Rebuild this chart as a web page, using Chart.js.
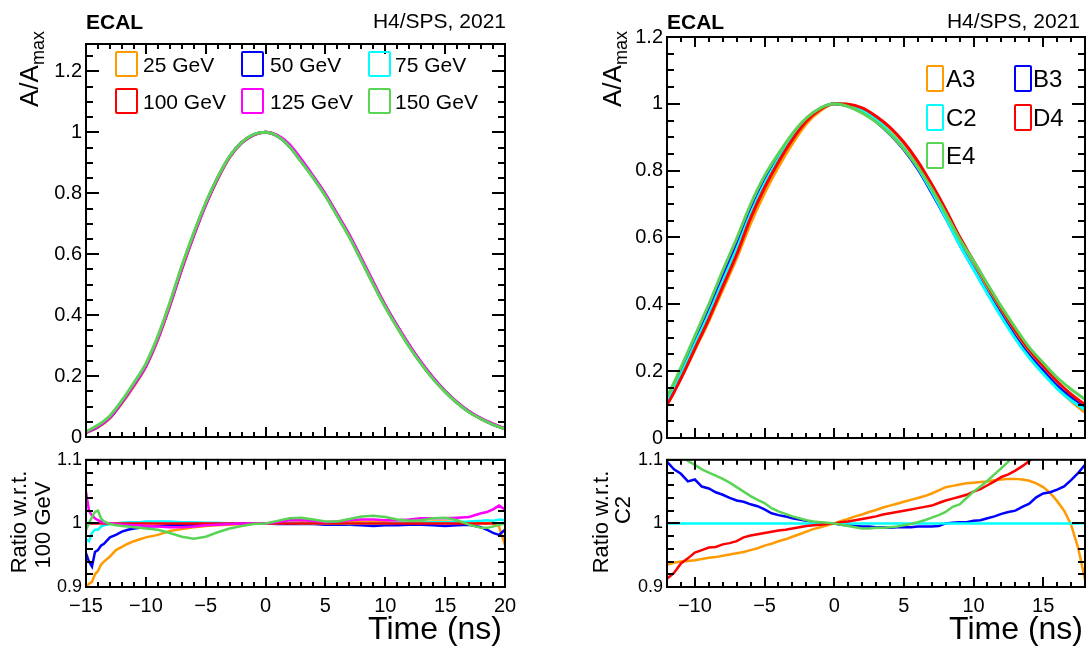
<!DOCTYPE html>
<html><head><meta charset="utf-8">
<script src="https://cdn.jsdelivr.net/npm/chart.js@4.4.1/dist/chart.umd.min.js"></script>
<style>
html,body{margin:0;padding:0;background:#fff;}
body{width:1091px;height:646px;position:relative;overflow:hidden;font-family:"Liberation Sans",Arial,sans-serif;color:#000;}
canvas{position:absolute;}
.t{position:absolute;white-space:nowrap;line-height:1;}
.box{position:absolute;box-sizing:border-box;border:2px solid;border-radius:2px;}
.rot{position:absolute;white-space:nowrap;line-height:1;transform:translate(-50%,-50%) rotate(-90deg);}
</style></head><body>
<canvas id="c1" width="530" height="425" style="left:0;top:28px"></canvas>
<canvas id="c2" width="530" height="201" style="left:0;top:445px"></canvas>
<canvas id="c3" width="511" height="434" style="left:580px;top:20px"></canvas>
<canvas id="c4" width="511" height="201" style="left:580px;top:445px"></canvas>

<div class="t" style="left:86px;top:11px;font-size:21px;font-weight:bold">ECAL</div>
<div class="t" style="right:585px;top:10px;font-size:21px">H4/SPS, 2021</div>
<div class="t" style="left:667px;top:11px;font-size:21px;font-weight:bold">ECAL</div>
<div class="t" style="right:11px;top:10px;font-size:21px">H4/SPS, 2021</div>

<div class="rot" style="left:29px;top:69px;font-size:26px">A/A<span style="font-size:18px;position:relative;top:6px">max</span></div>
<div class="rot" style="left:612px;top:69px;font-size:26px">A/A<span style="font-size:18px;position:relative;top:6px">max</span></div>
<div class="rot" style="left:19px;top:522px;font-size:22px">Ratio w.r.t.</div>
<div class="rot" style="left:43px;top:525px;font-size:22px">100 GeV</div>
<div class="rot" style="left:601px;top:522px;font-size:22px">Ratio w.r.t.</div>
<div class="rot" style="left:623px;top:510px;font-size:22px">C2</div>

<div class="t" style="right:589px;top:612px;font-size:32px">Time (ns)</div>
<div class="t" style="right:8px;top:612px;font-size:32px">Time (ns)</div>

<div id="legL"></div>
<div id="legR"></div>

<script>
// ---------- Top-left: pulse shapes per beam energy ----------
const tPulse = [-15,-14,-13,-12,-11,-10,-9,-8,-7,-6,-5,-4,-3,-2,-1,0,1,2,3,4,5,6,7,8,9,10,11,12,13,14,15,16,17,18,19,20];
const pulse25  = [.0135,.032,.062,.111,.167, .23,.319,.43,.55,.661, .762,.847,.918,.965,.992, 1.0,.988,.956,.907,.853, .796,.729,.661,.585,.507, .431,.363,.3,.243,.194, .15,.113,.083,.06,.042, .026];
const pulse50  = [.0143,.034,.064,.114,.171, .234,.324,.434,.554,.664, .764,.85,.92,.966,.992, 1.0,.987,.954,.904,.851, .793,.727,.659,.581,.503, .429,.362,.299,.242,.192, .149,.113,.083,.06,.041, .027];
const pulse75  = [.0146,.035,.065,.115,.172, .236,.326,.436,.556,.666, .766,.85,.92,.966,.992, 1.0,.988,.956,.905,.852, .795,.728,.659,.583,.505, .43,.363,.3,.243,.193, .15,.113,.083,.06,.042, .027];
const pulse100 = [.015,.035,.065,.115,.172, .235,.325,.435,.555,.665, .765,.85,.92,.966,.992, 1.0,.988,.955,.905,.852, .795,.728,.66,.583,.505, .43,.363,.3,.243,.193, .15,.113,.083,.06,.042, .027];
const pulse125 = [.016,.035,.065,.115,.171, .234,.323,.432,.552,.662, .763,.849,.919,.966,.992, 1.0,.99,.96,.91,.855, .797,.73,.663,.586,.508, .432,.365,.302,.245,.195, .151,.114,.084,.061,.043, .0276];
const pulse150 = [.018,.039,.07,.12,.178, .241,.331,.441,.561,.67, .769,.853,.922,.967,.993, 1.0,.987,.953,.902,.849, .791,.724,.656,.579,.501, .426,.359,.296,.24,.19, .148,.111,.081,.059,.041, .026];

// ---------- Bottom-left: ratio w.r.t. 100 GeV ----------
const tRatioL = [-15,-14.75,-14.5,-14.25,-14, -13.75,-13.5,-13,-12.5,-12, -11.5,-11,-10.5,-10,-9, -8,-7,-6,-5,-4, -3,-2,-1,0,1, 2,3,4,5,6, 7,8,9,10,11, 12,13,14,15,16, 17,18,18.5,19,19.5, 20];
const ratio25  = [0.900,0.905,0.908,0.920,0.925, 0.935,0.940,0.948,0.958,0.963, 0.968,0.972,0.975,0.978,0.982, 0.988,0.991,0.994,0.996,0.997, 0.998,0.999,1.000,1.000,1.000, 1.001,1.002,1.001,1.001,1.002, 1.002,1.003,1.003,1.002,1.001, 1.001,1.002,1.003,1.003,1.002, 1.000,1.001,1.000,1.002,0.995, 0.966];
const ratio50  = [0.953,0.940,0.932,0.955,0.958, 0.965,0.968,0.978,0.982,0.987, 0.990,0.992,0.993,0.995,0.996, 0.997,0.998,0.998,0.999,0.999, 1.000,1.000,1.000,1.000,0.999, 0.999,0.999,0.999,0.998,0.998, 0.998,0.997,0.996,0.997,0.997, 0.998,0.998,0.997,0.996,0.997, 0.998,0.994,0.990,0.985,0.982, 0.990];
const ratio75  = [0.975,0.972,0.985,0.990,0.990, 0.995,0.997,0.999,1.000,1.001, 1.002,1.002,1.002,1.003,1.003, 1.003,1.002,1.002,1.001,1.001, 1.000,1.000,1.000,1.000,1.000, 1.001,1.000,1.000,1.000,1.000, 0.999,1.000,1.000,1.000,1.001, 1.001,1.001,1.002,1.002,1.002, 1.003,1.004,1.005,1.004,1.006, 1.005];
const ratio125 = [1.050,1.020,1.012,1.008,1.005, 1.003,1.001,1.000,0.999,0.998, 0.998,0.997,0.997,0.996,0.995, 0.994,0.994,0.995,0.997,0.998, 0.999,1.000,1.000,1.000,1.002, 1.005,1.005,1.004,1.002,1.003, 1.005,1.006,1.006,1.005,1.005, 1.006,1.008,1.008,1.008,1.009, 1.010,1.016,1.018,1.022,1.028, 1.022];
const ratio150 = [0.990,1.000,1.010,1.018,1.020, 1.008,1.003,0.999,0.997,0.996, 0.995,0.994,0.993,0.992,0.990, 0.985,0.979,0.976,0.979,0.986, 0.992,0.996,0.999,1.000,1.004, 1.008,1.009,1.006,1.003,1.003, 1.007,1.011,1.012,1.010,1.006, 1.004,1.005,1.008,1.009,1.005, 0.998,0.993,0.993,0.995,0.998, 1.000];
const tRefL = [-15, 20];
const ratio100 = [1, 1];

// ---------- Top-right: pulse shapes per crystal ----------
const tPulseR = [-13,-12,-11,-10,-9,-8,-7,-6,-5,-4,-3,-2,-1,0,1,2,3,4,5,6,7,8,9,10,11,12,13,14,15,16,17,18,19];
const pulseA3 = [.061,.103,.179,.264,.35,.444,.538,.642,.733,.812,.881,.94,.979, 1.0, .998,.986,.96,.926,.882,.824,.754,.681,.598,.525,.452,.381,.314,.254,.2,.151,.11,.077,.053];
const pulseB3 = [.072,.121,.204,.297,.39,.489,.585,.69,.777,.845,.907,.956,.986, 1.0, .993,.976,.947,.909,.863,.805,.734,.659,.579,.507,.435,.367,.303,.247,.201,.156,.121,.092,.069];
const pulseC2 = [.065,.11,.19,.28,.37,.468,.565,.67,.76,.835,.9,.952,.985, 1.0, .996,.981,.953,.915,.868,.809,.738,.66,.578,.505,.432,.362,.297,.24,.192,.148,.113,.085,.062];
const pulseD4 = [.059,.100,.178,.267,.356,.453,.549,.658,.749,.826,.893,.948,.983, 1.0, .999,.988,.963,.930,.885,.828,.759,.684,.602,.530,.458,.388,.322,.264,.215,.169,.131,.100,.074];
const pulseE4 = [.075,.125,.211,.305,.40,.501,.597,.699,.784,.851,.911,.957,.987, 1.0, .992,.973,.946,.910,.865,.811,.745,.672,.595,.530,.461,.393,.330,.271,.225,.181,.146,.116,.088];

// ---------- Bottom-right: ratio w.r.t. C2 ----------
const tRatioR = [-12.5,-12,-11.5,-11,-10.5, -10,-9.5,-9,-8.5,-8, -7.5,-7,-6.5,-6,-5.5, -5,-4.5,-4,-3.5,-3, -2.5,-2,-1.5,-1,-0.5, 0,0.5,1,1.5,2, 2.5,3,3.5,4,4.5, 5,5.5,6,6.5,7, 7.5,8,8.5,9,9.5, 10,10.5,11,11.5,12, 12.5,13,13.5,14,14.5, 15,15.5,16,16.5,17, 17.5,18,18.5];
const ratioA3 = [0.933,0.935,0.938,0.940,0.941, 0.942,0.944,0.946,0.947,0.949, 0.951,0.953,0.955,0.958,0.961, 0.965,0.968,0.972,0.975,0.979, 0.983,0.987,0.991,0.994,0.997, 1.000,1.004,1.007,1.011,1.014, 1.018,1.021,1.025,1.028,1.031, 1.034,1.037,1.040,1.043,1.047, 1.052,1.057,1.059,1.061,1.063, 1.064,1.065,1.066,1.068,1.069, 1.070,1.070,1.069,1.067,1.063, 1.057,1.048,1.035,1.020,0.998, 0.962,0.912,0.870];
const ratioB3 = [1.105,1.097,1.085,1.078,1.066, 1.069,1.058,1.055,1.049,1.045, 1.040,1.036,1.034,1.030,1.027, 1.022,1.016,1.013,1.011,1.008, 1.006,1.004,1.002,1.001,1.000, 1.000,0.998,0.997,0.996,0.995, 0.995,0.994,0.994,0.993,0.994, 0.994,0.994,0.995,0.995,0.995, 0.996,1.000,1.001,1.002,1.002, 1.004,1.005,1.008,1.011,1.015, 1.018,1.020,1.026,1.031,1.041, 1.047,1.049,1.053,1.058,1.068, 1.079,1.092,1.100];
const ratioD4 = [0.905,0.913,0.922,0.937,0.945, 0.954,0.958,0.962,0.963,0.967, 0.969,0.972,0.978,0.981,0.983, 0.985,0.987,0.989,0.990,0.992, 0.994,0.996,0.997,0.998,0.999, 1.000,1.002,1.003,1.005,1.007, 1.009,1.011,1.014,1.016,1.018, 1.020,1.022,1.024,1.026,1.028, 1.032,1.036,1.039,1.042,1.045, 1.050,1.054,1.060,1.066,1.073, 1.077,1.083,1.090,1.098,1.110, 1.120,1.130,1.140,1.150,1.160, 1.170,1.180,1.190];
const ratioE4 = [1.150,1.140,1.125,1.110,1.098, 1.092,1.085,1.080,1.075,1.070, 1.064,1.057,1.050,1.043,1.037, 1.032,1.024,1.019,1.015,1.011, 1.008,1.005,1.003,1.002,1.001, 1.000,0.998,0.996,0.994,0.992, 0.992,0.993,0.993,0.994,0.995, 0.997,0.999,1.002,1.005,1.009, 1.013,1.018,1.026,1.030,1.040, 1.050,1.058,1.067,1.077,1.087, 1.097,1.110,1.120,1.130,1.150, 1.170,1.190,1.220,1.250,1.290, 1.320,1.360,1.380];
const tRefR = [-12.5, 18.5];
const ratioC2 = [1, 1];

// ---------- labels / ticks ----------
const energyLabels = ['25 GeV','50 GeV','75 GeV','100 GeV','125 GeV','150 GeV'];
const crystalLabels = ['A3','B3','C2','D4','E4'];
const xTicksL = [-15,-10,-5,0,5,10,15,20];
const xTicksR = [-10,-5,0,5,10,15];
const yTicksTopL = [0,0.2,0.4,0.6,0.8,1,1.2];
const yTicksTopR = [0,0.2,0.4,0.6,0.8,1,1.2];
const yTicksRatio = [0.9,1,1.1];

const C = {orange:'#ff9a00', blue:'#0000ff', cyan:'#00ffff', red:'#ff0000', magenta:'#ff00ff', green:'#59d454'};
const energyColors = [C.orange, C.blue, C.cyan, C.red, C.magenta, C.green];
const crystalColors = [C.orange, C.blue, C.cyan, C.red, C.green];

// ---------- helpers ----------
const pts = (xs, ys) => xs.map((x, i) => ({x, y: ys[i]}));
const fmt = v => { const r = Math.round(v * 1000) / 1000; return (r < 0 ? '\u2212' : '') + Math.abs(r); };
function mkSets(list, width, smooth) {
  const n = list.length;
  return list.map((s, i) => ({
    label: s.label, data: pts(s.x, s.y), borderColor: s.color, backgroundColor: s.color,
    borderWidth: width, pointRadius: 0, fill: false, clip: 0,
    cubicInterpolationMode: smooth ? 'monotone' : 'default', tension: 0, order: n - i
  }));
}

const rootFrame = {
  id: 'rootFrame',
  afterDraw(chart, args, o) {
    const {ctx, chartArea: a, scales: {x, y}} = chart;
    ctx.save();
    ctx.strokeStyle = '#000';
    ctx.lineWidth = 2;
    const xt = (step, len) => {
      for (let i = Math.ceil(x.min / step - 1e-6); i * step <= x.max + 1e-6; i++) {
        const p = Math.round(x.getPixelForValue(i * step));
        ctx.beginPath();
        ctx.moveTo(p, a.bottom); ctx.lineTo(p, a.bottom - len);
        ctx.moveTo(p, a.top); ctx.lineTo(p, a.top + len);
        ctx.stroke();
      }
    };
    const yt = (step, len) => {
      for (let i = Math.ceil(y.min / step - 1e-6); i * step <= y.max + 1e-6; i++) {
        const p = Math.round(y.getPixelForValue(i * step));
        ctx.beginPath();
        ctx.moveTo(a.left, p); ctx.lineTo(a.left + len, p);
        ctx.moveTo(a.right, p); ctx.lineTo(a.right - len, p);
        ctx.stroke();
      }
    };
    xt(o.xMinor, o.xMinorLen); xt(o.xMajor, o.xMajorLen);
    yt(o.yMinor, o.yMinorLen); yt(o.yMajor, o.yMajorLen);
    ctx.strokeRect(a.left, a.top, a.right - a.left, a.bottom - a.top);
    ctx.restore();
  }
};

function makeChart(id, datasets, cfg) {
  const xScale = {
    type: 'linear', min: cfg.xmin, max: cfg.xmax, display: cfg.xLabels,
    afterBuildTicks: s => { s.ticks = cfg.xTicks.map(v => ({value: v})); },
    grid: {display: false, drawTicks: false}, border: {display: false},
    ticks: {autoSkip: false, maxRotation: 0, minRotation: 0, padding: cfg.xPad, color: '#000',
            font: {size: cfg.xFont, family: '"Liberation Sans", Arial, sans-serif'}, callback: fmt}
  };
  if (cfg.xLabels) xScale.afterFit = s => { s.height = cfg.xh; };
  return new Chart(document.getElementById(id), {
    type: 'line',
    data: {datasets},
    options: {
      responsive: false, animation: false, devicePixelRatio: 1, events: [],
      layout: {padding: cfg.pad},
      plugins: {legend: {display: false}, tooltip: {enabled: false}, rootFrame: cfg.frame},
      scales: {
        x: xScale,
        y: {
          type: 'linear', min: cfg.ymin, max: cfg.ymax,
          afterFit: s => { s.width = cfg.yw; },
          afterBuildTicks: s => { s.ticks = cfg.yTicks.map(v => ({value: v})); },
          grid: {display: false, drawTicks: false}, border: {display: false},
          ticks: {autoSkip: false, padding: 4, color: '#000',
                  font: {size: cfg.yFont, family: '"Liberation Sans", Arial, sans-serif'}, callback: fmt}
        }
      }
    },
    plugins: [rootFrame]
  });
}

const pulseL = [pulse25, pulse50, pulse75, pulse100, pulse125, pulse150];
const ratioL = [ratio25, ratio50, ratio75, ratio100, ratio125, ratio150];
const pulseR = [pulseA3, pulseB3, pulseC2, pulseD4, pulseE4];
const ratioR = [ratioA3, ratioB3, ratioC2, ratioD4, ratioE4];

const frameTop = {xMinor: 1, xMajor: 5, xMinorLen: 5, xMajorLen: 10, yMinor: 0.05, yMajor: 0.2, yMinorLen: 7, yMajorLen: 13};
const frameRatio = {xMinor: 1, xMajor: 5, xMinorLen: 5, xMajorLen: 10, yMinor: 0.02, yMajor: 0.1, yMinorLen: 7, yMajorLen: 13};

makeChart('c1', mkSets(energyLabels.map((l, i) => ({label: l, color: energyColors[i], x: tPulse, y: pulseL[i]})), 3, true), {
  xmin: -15, xmax: 20, ymin: 0, ymax: 1.29, xTicks: xTicksL, yTicks: yTicksTopL, xLabels: false,
  yw: 86, yFont: 20, xFont: 20, xPad: 7, pad: {left: 0, top: 12, right: 25, bottom: 13}, frame: frameTop
});
makeChart('c2', mkSets(energyLabels.map((l, i) => ({label: l, color: energyColors[i], x: i === 3 ? tRefL : tRatioL, y: ratioL[i]})), 2.5, false), {
  xmin: -15, xmax: 20, ymin: 0.9, ymax: 1.1, xTicks: xTicksL, yTicks: yTicksRatio, xLabels: true, xh: 59,
  yw: 86, yFont: 18, xFont: 20, xPad: 7, pad: {left: 0, top: 14, right: 25, bottom: 0}, frame: frameRatio
});
makeChart('c3', mkSets(crystalLabels.map((l, i) => ({label: l, color: crystalColors[i], x: tPulseR, y: pulseR[i]})), 3, true), {
  xmin: -12, xmax: 18, ymin: 0, ymax: 1.2, xTicks: xTicksR, yTicks: yTicksTopR, xLabels: false,
  yw: 87, yFont: 20, xFont: 20, xPad: 7, pad: {left: 0, top: 17, right: 6, bottom: 13}, frame: frameTop
});
makeChart('c4', mkSets(crystalLabels.map((l, i) => ({label: l, color: crystalColors[i], x: i === 2 ? tRefR : tRatioR, y: ratioR[i]})), 2.5, false), {
  xmin: -12, xmax: 18, ymin: 0.9, ymax: 1.1, xTicks: xTicksR, yTicks: yTicksRatio, xLabels: true, xh: 59,
  yw: 87, yFont: 18, xFont: 20, xPad: 7, pad: {left: 0, top: 14, right: 6, bottom: 0}, frame: frameRatio
});

// ---------- legends (HTML, ROOT style open boxes) ----------
function legend(holder, items) {
  const el = document.getElementById(holder);
  items.forEach(it => {
    const b = document.createElement('div');
    b.className = 'box';
    b.style.cssText = `left:${it.bx}px;top:${it.by}px;width:${it.bw}px;height:${it.bh}px;border-color:${it.color}`;
    el.appendChild(b);
    const t = document.createElement('div');
    t.className = 't';
    t.style.cssText = `left:${it.tx}px;top:${it.ty}px;font-size:${it.fs}px`;
    t.textContent = it.label;
    el.appendChild(t);
  });
}
const legLCols = [115, 241, 368], legLText = [143, 270, 395], legLRows = [51, 88];
legend('legL', energyLabels.map((l, i) => {
  const c = i % 3, r = Math.floor(i / 3);
  return {label: l, color: energyColors[i], bx: legLCols[c], by: legLRows[r], bw: 23, bh: 26,
          tx: legLText[c], ty: legLRows[r] + 13 - 10.3, fs: 21};
}));
const legRCols = [926, 1014], legRText = [946, 1033], legRRows = [65, 104, 142];
const legRPos = [[0,0],[0,1],[1,0],[1,1],[2,0]];
legend('legR', crystalLabels.map((l, i) => {
  const [r, c] = legRPos[i];
  return {label: l, color: crystalColors[i], bx: legRCols[c], by: legRRows[r], bw: 18, bh: 27,
          tx: legRText[c], ty: legRRows[r] + 13.5 - 11.8, fs: 24};
}));
</script>
</body></html>
